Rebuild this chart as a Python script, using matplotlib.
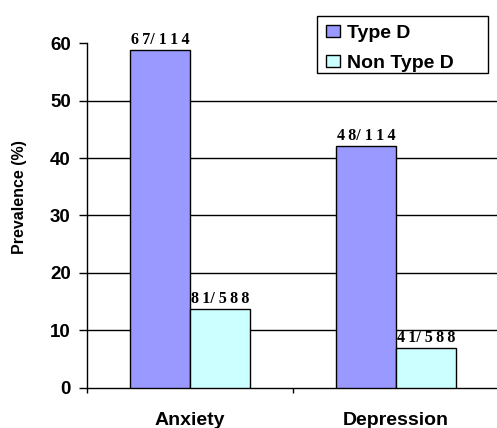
import numpy as np
import matplotlib.pyplot as plt
from matplotlib.patches import Rectangle

# Data
categories = ["Anxiety", "Depression"]
series_names = ["Type D", "Non Type D"]
type_d = [58.8, 42.1]
non_type_d = [13.8, 7.0]
labels_type_d = ["67/ 114", "48/ 114"]
labels_non_type_d = ["81/ 588", "41/ 588"]
colors = ["#9999FF", "#CCFFFF"]

W, H = 497, 428
fig = plt.figure(figsize=(W / 100, H / 100), dpi=100)
ax = fig.add_axes([0.175, 0.0935, 0.829, 0.806])

x = np.arange(len(categories))
w = 0.29

b1 = ax.bar(x - w / 2, type_d, w, color=colors[0], edgecolor="black", linewidth=1, zorder=3, label=series_names[0])
b2 = ax.bar(x + w / 2, non_type_d, w, color=colors[1], edgecolor="black", linewidth=1, zorder=3, label=series_names[1])

# fraction labels above bars (letter-spaced serif text)
def spaced(s):
    a, b = s.split("/")
    return "\u2009".join(a) + "/ " + "\u2009".join(b.strip())

for bars, labs in [(b1, labels_type_d), (b2, labels_non_type_d)]:
    for bar, lab in zip(bars, labs):
        ax.annotate(spaced(lab), (bar.get_x() + bar.get_width() / 2, bar.get_height()),
                    xytext=(0, 1.5), textcoords="offset points", ha="center", va="bottom",
                    fontsize=11.5, fontweight="bold", family=["Liberation Serif", "DejaVu Serif"])

ax.set_xlim(-0.5, 1.5)
ax.set_ylim(0, 60)
ax.set_yticks(np.arange(0, 61, 10))
for v in range(10, 60, 10):
    ax.axhline(v, color="black", linewidth=1, zorder=1)

ax.set_xticks(x)
ax.set_xticklabels(categories)
ax.set_xticks([-0.5, 0.5, 1.5], minor=True)
ax.tick_params(axis="x", which="major", length=0, pad=17)
ax.tick_params(axis="x", which="minor", length=3.6, width=1, direction="out")
ax.tick_params(axis="y", length=5.8, width=1, direction="out", pad=5.8)

for lab in ax.get_xticklabels():
    lab.set_fontweight("bold")
    lab.set_fontsize(14)
    lab.set_family(["Liberation Sans", "DejaVu Sans"])
for lab in ax.get_yticklabels():
    lab.set_fontweight("bold")
    lab.set_fontsize(13.5)
    lab.set_family(["Liberation Sans", "DejaVu Sans"])

ax.spines["top"].set_visible(False)
ax.spines["right"].set_visible(False)
ax.spines["left"].set_linewidth(1)
ax.spines["bottom"].set_linewidth(1)

ax.set_ylabel("Prevalence (%)", fontsize=11.5, fontweight="bold",
              family=["Liberation Sans", "DejaVu Sans"])
ax.yaxis.set_label_coords((27 - 87) / 412, (388 - 197) / 345)

# legend with a wider box drawn separately
leg = fig.legend(handles=[b1, b2], loc="upper left", bbox_to_anchor=(311 / W, 1 - 10 / H),
                 frameon=False, handlelength=0.72, handleheight=0.55, handletextpad=0.36,
                 borderpad=0.26, labelspacing=0.67,
                 prop={"family": ["Liberation Sans", "DejaVu Sans"], "weight": "bold", "size": 14})
fig.patches.append(Rectangle((317 / W, 1 - 73 / H), 171 / W, 57 / H, transform=fig.transFigure,
                             facecolor="none", edgecolor="black", linewidth=1))

fig.savefig("out.png", dpi=100)
